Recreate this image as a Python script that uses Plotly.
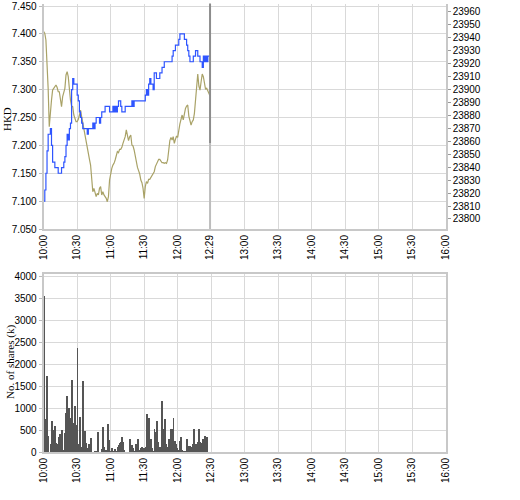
import pandas as pd
import plotly.graph_objects as go

# one value per minute from 10:00 to 12:29
hkd_price = [
    7.10, 7.12, 7.15, 7.19, 7.22, 7.22, 7.23, 7.20, 7.17, 7.17,
    7.16, 7.16, 7.16, 7.15, 7.15, 7.15, 7.16, 7.16, 7.17, 7.18,
    7.20, 7.22, 7.21, 7.23, 7.24, 7.30, 7.32, 7.31, 7.31, 7.31,
    7.29, 7.28, 7.26, 7.25, 7.24, 7.23, 7.23, 7.23, 7.23, 7.22,
    7.23, 7.23, 7.23, 7.23, 7.24, 7.23, 7.24, 7.25, 7.25, 7.25,
    7.24, 7.25, 7.26, 7.26, 7.26, 7.27, 7.27, 7.27, 7.27, 7.26,
    7.26, 7.26, 7.27, 7.26, 7.27, 7.26, 7.27, 7.28, 7.28, 7.27,
    7.26, 7.26, 7.26, 7.27, 7.27, 7.27, 7.27, 7.27, 7.27, 7.28,
    7.27, 7.28, 7.28, 7.28, 7.28, 7.28, 7.28, 7.28, 7.28, 7.28,
    7.28, 7.29, 7.30, 7.29, 7.31, 7.32, 7.31, 7.31, 7.30, 7.33,
    7.33, 7.32, 7.32, 7.32, 7.33, 7.33, 7.34, 7.34, 7.35, 7.35,
    7.35, 7.35, 7.35, 7.35, 7.35, 7.36, 7.37, 7.37, 7.38, 7.38,
    7.38, 7.39, 7.40, 7.40, 7.40, 7.40, 7.39, 7.39, 7.38, 7.37,
    7.36, 7.35, 7.35, 7.35, 7.36, 7.36, 7.37, 7.37, 7.36, 7.36,
    7.35, 7.35, 7.34, 7.36, 7.35, 7.36, 7.35, 7.36, 7.36, 7.36,
]

index_level = [
    23944.1, 23942.8, 23937.7, 23922.3, 23900.5, 23871.0, 23886.4, 23891.5, 23899.2, 23900.5,
    23902.3, 23903.1, 23901.3, 23897.9, 23897.9, 23891.5, 23886.4, 23894.1, 23897.9, 23900.5,
    23910.8, 23913.3, 23909.5, 23899.2, 23891.5, 23886.9, 23886.4, 23880.0, 23877.4, 23874.9,
    23874.9, 23876.7, 23880.0, 23883.8, 23878.7, 23873.6, 23867.9, 23864.6, 23858.2, 23853.1,
    23849.2, 23845.9, 23841.5, 23832.6, 23821.0, 23823.6, 23819.7, 23817.2, 23819.7, 23818.5,
    23823.6, 23824.9, 23818.5, 23821.0, 23818.5, 23817.2, 23815.9, 23813.3, 23817.2, 23830.0,
    23836.4, 23839.0, 23841.5, 23842.8, 23845.4, 23848.5, 23851.8, 23851.0, 23853.6, 23853.6,
    23855.1, 23858.2, 23860.8, 23863.3, 23868.5, 23863.8, 23860.3, 23863.3, 23864.6, 23856.9,
    23856.2, 23853.1, 23847.9, 23842.3, 23839.7, 23837.2, 23834.6, 23830.0, 23827.9, 23823.6,
    23815.9, 23824.9, 23828.7, 23827.4, 23830.5, 23830.5, 23832.1, 23833.8, 23835.1, 23836.4,
    23840.3, 23842.1, 23843.3, 23845.9, 23845.9, 23844.4, 23843.3, 23843.3, 23842.8, 23843.3,
    23842.8, 23845.4, 23855.6, 23860.3, 23862.8, 23860.8, 23863.3, 23858.2, 23861.3, 23863.8,
    23862.8, 23869.7, 23873.1, 23876.7, 23880.0, 23876.2, 23881.3, 23885.1, 23886.9, 23887.7,
    23879.2, 23874.1, 23872.3, 23874.9, 23876.2, 23881.3, 23894.1, 23904.4, 23911.5, 23902.3,
    23899.2, 23905.6, 23911.5, 23909.5, 23903.1, 23899.7, 23900.5, 23898.7, 23896.7, 23894.6,
]

volume_k = [
    3570, 500, 750, 1740, 370, 0, 200, 710, 500, 450,
    590, 210, 180, 340, 410, 0, 500, 0, 50, 430,
    890, 1290, 1000, 520, 780, 1650, 660, 530, 1050, 620,
    2390, 190, 800, 130, 100, 1630, 390, 480, 210, 100,
    200, 0, 320, 0, 0, 0, 40, 40, 460, 0,
    0, 0, 80, 570, 120, 50, 50, 640, 280, 40,
    0, 100, 30, 0, 80, 30, 130, 160, 220, 240,
    340, 230, 50, 0, 0, 0, 0, 300, 30, 160,
    100, 30, 200, 100, 300, 50, 0, 100, 120, 100,
    100, 120, 870, 30, 780, 30, 300, 100, 40, 540,
    465, 710, 236, 40, 120, 120, 1170, 527, 756, 190,
    10, 120, 300, 160, 540, 540, 794, 267, 198, 100,
    50, 40, 250, 360, 60, 40, 20, 0, 313, 153,
    122, 140, 122, 200, 527, 100, 200, 122, 236, 527,
    236, 220, 298, 200, 374, 100, 343, 0, 0, 0,
]

top_ticks = ["10:00", "10:30", "11:00", "11:30", "12:00", "12:29", "13:00",
             "13:30", "14:00", "14:30", "15:00", "15:30", "16:00"]
bottom_ticks = ["10:00", "10:30", "11:00", "11:30", "12:00", "12:30", "13:00",
                "13:30", "14:00", "14:30", "15:00", "15:30", "16:00"]
hkd_ticks = [7.05, 7.10, 7.15, 7.20, 7.25, 7.30, 7.35, 7.40, 7.45]
index_ticks = [23800, 23810, 23820, 23830, 23840, 23850, 23860, 23870, 23880,
               23890, 23900, 23910, 23920, 23930, 23940, 23950, 23960]
volume_ticks = [0, 500, 1000, 1500, 2000, 2500, 3000, 3500, 4000]

day = "2024-01-02 "
times = pd.date_range(day + "10:00", periods=len(hkd_price), freq="min")
x_range = [day + "10:00", day + "16:00"]

tick_font = dict(family="Liberation Sans, Arial, sans-serif", size=10, color="#000000")
title_font = dict(family="Liberation Serif, Times New Roman, serif", size=11, color="#000000")
grid = "#d9d9d9"
axis_line = "#c8c8c8"
x_dom = [0.084, 0.857]

fig = go.Figure()

fig.add_trace(go.Scatter(
    x=times, y=index_level, xaxis="x", yaxis="y",
    mode="lines", line=dict(color="#a9a267", width=1.2),
))
fig.add_trace(go.Scatter(
    x=times, y=hkd_price, xaxis="x", yaxis="y2",
    mode="lines", line=dict(color="#2f55ff", width=1.2, shape="hv"),
))
fig.add_trace(go.Bar(
    x=times, y=volume_k, xaxis="x2", yaxis="y3",
    marker=dict(color="#555555", line=dict(width=0)), width=50000,
))

fig.update_layout(
    width=520, height=500,
    margin=dict(l=0, r=0, t=0, b=0),
    paper_bgcolor="white", plot_bgcolor="white",
    showlegend=False,
    bargap=0,
    xaxis=dict(
        domain=x_dom, anchor="y", type="date", range=x_range,
        tickvals=[day + t for t in top_ticks], ticktext=top_ticks,
        tickangle=-90, tickfont=tick_font,
        showgrid=True, gridcolor=grid, gridwidth=1,
        showline=True, linecolor=axis_line, linewidth=2,
        zeroline=False, automargin=False,
    ),
    yaxis=dict(
        domain=[0.542, 0.993], anchor="x", side="right",
        range=[23792.3, 23965.8], tickvals=index_ticks, tickformat="d",
        tickfont=tick_font, showgrid=False,
        showline=True, linecolor=axis_line, linewidth=2,
        ticks="outside", ticklen=3, tickcolor="#999999",
        ticklabeloverflow="allow",
        zeroline=False, automargin=False,
    ),
    yaxis2=dict(
        overlaying="y", anchor="x", side="left",
        range=[7.05, 7.4545], tickvals=hkd_ticks, tickformat=".3f",
        tickfont=tick_font,
        showgrid=True, gridcolor=grid, gridwidth=1,
        showline=True, linecolor=axis_line, linewidth=2,
        ticks="outside", ticklen=3, tickcolor="#bbbbbb",
        ticklabeloverflow="allow",
        zeroline=False, automargin=False,
    ),
    xaxis2=dict(
        domain=x_dom, anchor="y3", type="date", range=x_range,
        tickvals=[day + t for t in bottom_ticks], ticktext=bottom_ticks,
        tickangle=-90, tickfont=tick_font,
        showgrid=True, gridcolor=grid, gridwidth=1,
        showline=True, linecolor=axis_line, linewidth=2, mirror=True,
        zeroline=False, automargin=False,
    ),
    yaxis3=dict(
        domain=[0.096, 0.4526], anchor="x2",
        range=[0, 4068], tickvals=volume_ticks, tickformat="d",
        tickfont=tick_font,
        showgrid=True, gridcolor=grid, gridwidth=1,
        showline=True, linecolor=axis_line, linewidth=2, mirror=True,
        ticks="outside", ticklen=3, tickcolor="#bbbbbb",
        zeroline=False, automargin=False,
    ),
    annotations=[
        dict(text="HKD", x=0.0135, y=0.762, xref="paper", yref="paper",
             xanchor="center", yanchor="middle",
             textangle=-90, showarrow=False, font=title_font),
        dict(text="No. of shares (k)", x=0.019, y=0.276, xref="paper", yref="paper",
             xanchor="center", yanchor="middle",
             textangle=-90, showarrow=False, font=title_font),
    ],
    shapes=[
        dict(type="line", xref="x", yref="y domain",
             x0=day + "12:29", x1=day + "12:29", y0=0.381, y1=1,
             line=dict(color="#8c8c8c", width=2)),
        dict(type="line", xref="x", yref="y domain",
             x0=day + "12:29", x1=day + "12:29", y0=0, y1=0.381,
             line=dict(color="#bdbdbd", width=2)),
    ],
)

fig.write_html("out.html", config={"displayModeBar": False},
               post_script="document.body.style.margin = '0';")
